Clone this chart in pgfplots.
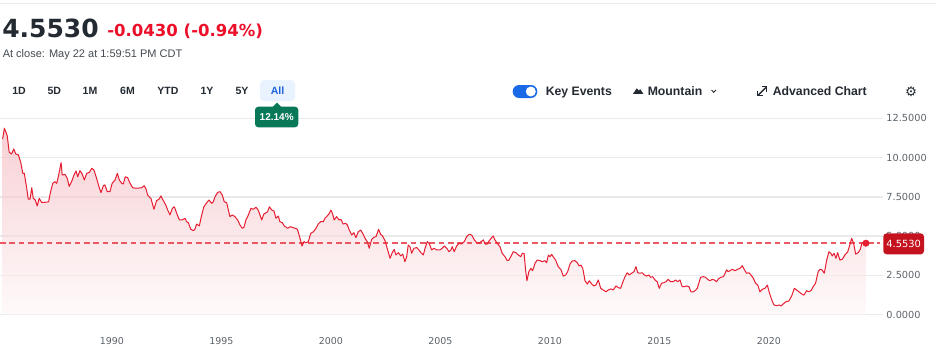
\documentclass[border=0pt]{standalone}
\usepackage{pgfplots}
\pgfplotsset{compat=1.18}
\usepackage{pgfplotstable}
\usepackage{fontspec}
\setmainfont{Liberation Sans}
\newfontfamily\numfont{DejaVu Sans}

\definecolor{darktext}{RGB}{35,42,49}
\definecolor{negred}{RGB}{235,15,41}
\definecolor{linered}{RGB}{230,30,50}
\definecolor{dashred}{RGB}{236,88,98}
\definecolor{gridgray}{RGB}{234,234,234}
\definecolor{tickgray}{RGB}{91,99,106}
\definecolor{allblue}{RGB}{30,100,220}
\definecolor{allbg}{RGB}{233,242,255}
\definecolor{badgegreen}{RGB}{8,120,88}
\definecolor{toggleblue}{RGB}{26,105,230}
\definecolor{pricered}{RGB}{196,18,30}
\definecolor{filltop}{RGB}{243,177,185}
\definecolor{fillbot}{RGB}{253,246,246}

\pgfplotstableread{
year value
1985.01 11.18
1985.09 11.87
1985.22 11.39
1985.31 10.34
1985.42 10.23
1985.52 10.55
1985.61 10.23
1985.73 10.17
1985.84 9.68
1985.93 9.00
1986.00 9.00
1986.11 8.05
1986.18 7.36
1986.26 7.36
1986.34 8.08
1986.41 7.41
1986.50 7.30
1986.59 6.92
1986.68 7.41
1986.79 7.15
1986.94 7.15
1987.11 7.19
1987.20 7.83
1987.30 8.36
1987.40 8.47
1987.48 8.36
1987.57 8.89
1987.68 9.68
1987.73 8.89
1987.86 8.94
1987.96 8.68
1988.05 8.17
1988.16 8.47
1988.27 8.89
1988.36 9.15
1988.44 8.78
1988.54 9.17
1988.65 8.94
1988.74 8.57
1988.85 9.00
1988.97 9.06
1989.08 9.32
1989.18 9.21
1989.30 8.68
1989.41 8.15
1989.50 7.77
1989.61 8.21
1989.68 8.26
1989.79 7.83
1989.91 7.83
1990.01 8.36
1990.14 8.57
1990.25 9.00
1990.34 8.57
1990.45 8.36
1990.52 8.32
1990.61 8.78
1990.72 8.72
1990.83 8.36
1990.95 8.08
1991.13 8.05
1991.36 8.08
1991.47 8.21
1991.56 8.00
1991.63 7.62
1991.74 7.45
1991.78 7.41
1991.92 6.71
1992.04 7.26
1992.15 7.35
1992.24 7.56
1992.35 7.26
1992.46 6.98
1992.55 6.66
1992.65 6.35
1992.76 6.77
1992.85 6.87
1992.96 6.45
1993.08 6.03
1993.21 6.03
1993.34 6.14
1993.41 5.92
1993.49 5.86
1993.60 5.44
1993.72 5.35
1993.79 5.44
1993.87 5.77
1993.99 5.65
1994.10 6.35
1994.20 6.87
1994.33 7.13
1994.43 7.30
1994.56 7.09
1994.63 7.19
1994.71 7.51
1994.83 7.79
1994.94 7.83
1995.04 7.62
1995.13 7.19
1995.24 7.13
1995.31 6.71
1995.39 6.24
1995.50 6.35
1995.62 6.24
1995.74 6.03
1995.85 5.71
1995.95 5.50
1996.03 5.56
1996.12 6.03
1996.23 6.35
1996.35 6.77
1996.46 6.71
1996.58 6.84
1996.68 6.66
1996.76 6.35
1996.84 6.03
1996.94 6.41
1997.04 6.49
1997.11 6.56
1997.19 6.87
1997.30 6.66
1997.40 6.60
1997.49 6.14
1997.60 6.28
1997.67 5.92
1997.78 5.86
1997.87 5.65
1998.03 5.50
1998.13 5.60
1998.24 5.56
1998.36 5.50
1998.47 5.44
1998.59 4.86
1998.68 4.37
1998.77 4.65
1998.86 4.58
1998.97 4.65
1999.08 5.18
1999.20 5.28
1999.32 5.50
1999.42 5.77
1999.53 5.92
1999.65 5.92
1999.73 6.14
1999.83 6.28
1999.93 6.45
2000.00 6.66
2000.08 6.41
2000.15 6.03
2000.26 6.24
2000.37 6.03
2000.46 6.07
2000.56 5.77
2000.67 5.82
2000.75 5.71
2000.84 5.39
2000.95 5.07
2001.05 5.22
2001.14 4.90
2001.25 5.28
2001.36 5.39
2001.45 5.18
2001.56 4.86
2001.66 4.65
2001.75 4.23
2001.86 4.80
2001.97 4.93
2002.06 4.97
2002.18 5.44
2002.27 5.12
2002.36 5.01
2002.47 4.71
2002.57 4.23
2002.70 3.59
2002.80 3.95
2002.89 4.16
2002.97 3.80
2003.08 3.95
2003.19 3.74
2003.28 3.86
2003.38 3.37
2003.46 3.69
2003.53 4.44
2003.61 4.33
2003.69 3.91
2003.79 4.23
2003.92 4.27
2004.02 4.12
2004.11 3.95
2004.22 3.80
2004.30 4.23
2004.40 4.65
2004.49 4.54
2004.60 4.12
2004.71 4.23
2004.83 4.12
2004.98 4.12
2005.08 4.23
2005.18 4.37
2005.29 4.23
2005.39 4.01
2005.48 4.12
2005.54 4.33
2005.63 4.01
2005.74 4.37
2005.85 4.54
2005.97 4.50
2006.09 4.65
2006.20 4.97
2006.32 5.12
2006.43 5.07
2006.55 4.76
2006.66 4.58
2006.76 4.54
2006.85 4.65
2006.96 4.76
2007.04 4.50
2007.14 4.50
2007.23 4.71
2007.31 4.86
2007.41 5.01
2007.49 4.76
2007.60 4.54
2007.72 4.33
2007.82 3.91
2007.95 3.69
2008.05 3.44
2008.13 3.48
2008.21 3.69
2008.33 4.01
2008.44 3.95
2008.56 3.80
2008.67 3.69
2008.74 3.91
2008.82 3.91
2008.89 2.85
2008.95 2.16
2009.04 2.74
2009.13 2.95
2009.21 2.80
2009.32 3.27
2009.42 3.48
2009.55 3.44
2009.65 3.37
2009.77 3.44
2009.85 3.31
2009.93 3.80
2010.00 3.69
2010.08 3.84
2010.15 3.69
2010.26 3.48
2010.38 3.06
2010.51 2.85
2010.61 2.46
2010.72 2.53
2010.81 2.74
2010.92 3.23
2011.02 3.42
2011.14 3.44
2011.25 3.31
2011.34 3.10
2011.42 3.16
2011.50 2.95
2011.57 2.42
2011.60 2.16
2011.71 1.95
2011.80 2.16
2011.91 1.95
2012.01 1.83
2012.10 1.89
2012.21 2.21
2012.32 1.68
2012.44 1.57
2012.56 1.46
2012.66 1.57
2012.79 1.64
2012.89 1.57
2013.02 1.83
2013.12 1.72
2013.23 1.68
2013.32 2.04
2013.43 2.42
2013.53 2.67
2013.62 2.53
2013.73 2.64
2013.84 2.74
2013.93 3.06
2014.01 2.67
2014.11 2.64
2014.22 2.67
2014.31 2.53
2014.42 2.46
2014.52 2.53
2014.60 2.38
2014.69 2.42
2014.80 2.21
2014.90 2.10
2014.99 1.68
2015.10 2.00
2015.21 2.04
2015.30 2.10
2015.40 2.25
2015.51 2.10
2015.63 2.10
2015.74 2.21
2015.83 2.10
2015.94 2.21
2016.04 1.78
2016.13 1.78
2016.24 1.83
2016.35 1.78
2016.44 1.46
2016.55 1.46
2016.66 1.57
2016.73 1.68
2016.82 2.10
2016.88 2.38
2017.00 2.42
2017.11 2.38
2017.20 2.25
2017.31 2.16
2017.41 2.25
2017.51 2.21
2017.61 2.10
2017.69 2.27
2017.80 2.38
2017.92 2.42
2018.00 2.64
2018.07 2.85
2018.14 2.74
2018.22 2.80
2018.33 2.89
2018.45 2.80
2018.57 2.89
2018.68 2.95
2018.78 3.12
2018.87 2.89
2018.98 2.64
2019.09 2.67
2019.18 2.53
2019.29 2.32
2019.39 2.00
2019.49 1.89
2019.59 1.46
2019.70 1.62
2019.82 1.68
2019.93 1.89
2020.02 1.40
2020.13 0.94
2020.23 0.62
2020.35 0.57
2020.47 0.62
2020.55 0.55
2020.65 0.68
2020.78 0.83
2020.91 0.87
2021.04 1.19
2021.16 1.68
2021.27 1.57
2021.37 1.46
2021.50 1.32
2021.60 1.25
2021.72 1.53
2021.83 1.46
2021.92 1.53
2022.02 1.78
2022.13 2.00
2022.25 2.74
2022.33 2.89
2022.43 2.85
2022.53 2.64
2022.64 3.48
2022.74 4.01
2022.83 3.91
2022.89 3.74
2022.98 3.91
2023.06 3.59
2023.14 3.95
2023.24 3.48
2023.35 3.53
2023.47 3.80
2023.60 4.01
2023.67 4.33
2023.78 4.86
2023.87 4.54
2023.96 3.86
2024.08 3.95
2024.17 4.16
2024.26 4.58
2024.35 4.58
2024.43 4.553
}\tnx

\pgfplotstableread{
year value
1984.89 4.553
2025.05 4.553
}\lastline

\begin{document}
\begin{tikzpicture}
\path[use as bounding box] (0,0) rectangle (702pt,-271.5pt);
\begin{axis}[
  at={(0pt,-236.025pt)}, anchor=south west,
  scale only axis, width=662.25pt, height=147.3pt,
  xmin=1984.89, xmax=2025.21, ymin=0, ymax=12.5,
  axis line style={draw=none},
  tick style={draw=none},
  major tick length=0pt,
  /pgf/number format/assume math mode=true,
  ytick={0,2.5,5,7.5,10,12.5},
  ytick pos=right, yticklabel pos=right,
  yticklabel style={anchor=west, inner sep=0pt, xshift=2.4pt,
    font=\numfont\fontsize{7.3pt}{8pt}\selectfont, text=tickgray,
    /pgf/number format/fixed, /pgf/number format/fixed zerofill,
    /pgf/number format/precision=4},
  xtick={1990,1995,2000,2005,2010,2015,2020},
  xticklabel style={anchor=center, inner sep=0pt, yshift=-19.5pt,
    font=\numfont\fontsize{7.1pt}{8pt}\selectfont, text=tickgray,
    /pgf/number format/1000 sep={}},
  ymajorgrids, major grid style={gridgray, line width=1pt},
]
\addplot[draw=none, top color=filltop, bottom color=fillbot, fill opacity=0.6] table[x=year,y=value]{\tnx} \closedcycle;
\addplot[draw=dashred, line width=1.1pt, dash pattern=on 4.2pt off 2.8pt] table[x=year,y=value]{\lastline};
\addplot[draw=linered, line width=0.75pt, line join=round] table[x=year,y=value]{\tnx};
\addplot[draw=linered, only marks, mark=*, mark size=2.4pt, mark options={fill=linered, draw=linered, fill opacity=1}] coordinates {(2024.43,4.553)};
\end{axis}

\begin{scope}[x=0.75pt, y=-0.75pt]
  % top border
  \draw[gridgray, line width=0.75pt] (0,3) -- (936,3);
  % header
  \node[anchor=base west, inner sep=0pt, text=darktext, font=\numfont\bfseries\fontsize{18.75pt}{22pt}\selectfont] at (2,37.5) {4.5530};
  \node[anchor=base west, inner sep=0pt, text=negred, font=\numfont\bfseries\fontsize{12.4pt}{14pt}\selectfont] at (107,36.3) {-0.0430 (-0.94\%)};
  \node[anchor=base west, inner sep=0pt, text=darktext!85, font=\fontsize{8.25pt}{10pt}\selectfont] at (2.5,57.3) {At close: May 22 at 1:59:51 PM CDT};
  % range tabs
  \fill[allbg, rounded corners=3pt] (260,80) rectangle (295,101);
  \foreach \lab/\xx in {1D/19, 5D/54.3, 1M/90, 6M/127.5, YTD/168, 1Y/207, 5Y/242}{
    \node[anchor=base, inner sep=0pt, text=darktext, font=\bfseries\fontsize{7.9pt}{9pt}\selectfont] at (\xx,94.5) {\lab};
  }
  \node[anchor=base, inner sep=0pt, text=allblue, font=\bfseries\fontsize{7.9pt}{9pt}\selectfont] at (277.5,94.5) {All};
  % badge
  \fill[badgegreen, rounded corners=2.5pt] (255,106.7) rectangle (298.3,127.3);
  \fill[badgegreen] (272,107.5) -- (277,102.5) -- (282,107.5) -- cycle;
  \node[anchor=center, inner sep=0pt, text=white, font=\bfseries\fontsize{7.5pt}{9pt}\selectfont] at (276.7,117.3) {12.14\%};
  % toggle
  \fill[toggleblue, rounded corners=4.8pt] (512.7,85) rectangle (537.3,98);
  \fill[white] (530.8,91.5) circle (5);
  \node[anchor=base west, inner sep=0pt, text=darktext, font=\bfseries\fontsize{9.2pt}{11pt}\selectfont] at (545.5,95.3) {Key Events};
  % mountain icon
  \fill[darktext] (633,93.8) -- (636.8,88.3) -- (638.8,90.6) -- (640.2,89.2) -- (643.4,93.8) -- cycle;
  \node[anchor=base west, inner sep=0pt, text=darktext, font=\bfseries\fontsize{9.2pt}{11pt}\selectfont] at (647.5,95.3) {Mountain};
  \draw[darktext, line width=0.7pt] (711.5,90) -- (713.7,92.3) -- (715.9,90);
  % expand icon
  \draw[darktext, line width=1pt] (758.3,95) -- (765.8,87.5);
  \draw[darktext, line width=1pt] (761.5,86.7) -- (766.6,86.7) -- (766.6,91.8);
  \draw[darktext, line width=1pt] (757.5,90.5) -- (757.5,95.8) -- (762.6,95.8);
  \node[anchor=base west, inner sep=0pt, text=darktext, font=\bfseries\fontsize{9.2pt}{11pt}\selectfont] at (772.5,95.3) {Advanced Chart};
  % gear
  \node[anchor=center, inner sep=0pt, text=darktext, font=\numfont\fontsize{10pt}{11pt}\selectfont] at (911,91.3) {⚙};
  % price label
  \fill[pricered, rounded corners=2.5pt] (883.3,233.3) rectangle (924,254.3);
  \node[anchor=center, inner sep=0pt, text=white, font=\numfont\fontsize{7.4pt}{9pt}\selectfont] at (903.6,243.9) {4.5530};
\end{scope}
\end{tikzpicture}
\end{document}
